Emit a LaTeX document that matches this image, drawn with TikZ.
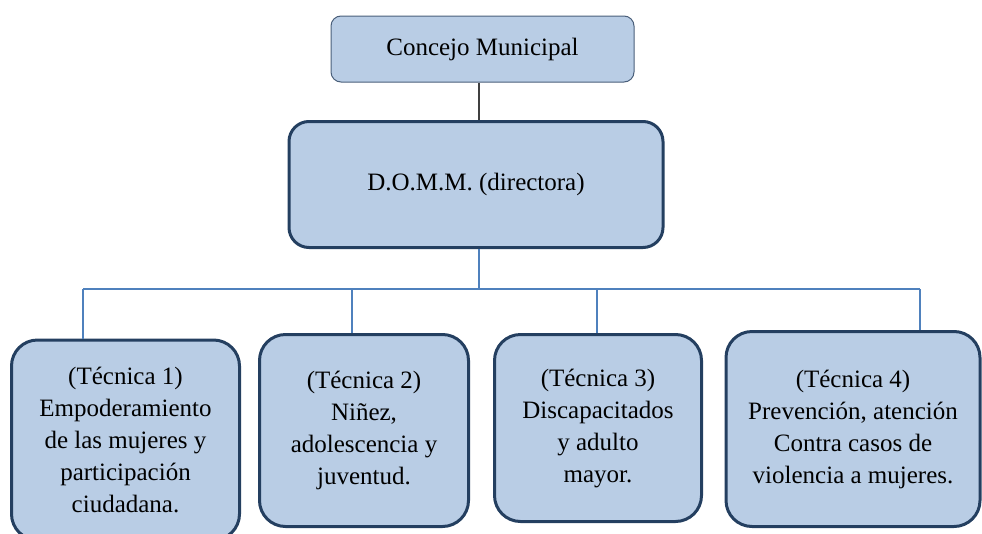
\documentclass[tikz,border=0pt]{standalone}
\usepackage{fontspec}
\setmainfont{Liberation Serif}
\definecolor{boxfill}{HTML}{B9CDE5}
\definecolor{boxline}{HTML}{243F60}
\definecolor{thinline}{HTML}{4A5F7A}
\definecolor{conn}{HTML}{4F81BD}
\begin{document}
\begin{tikzpicture}[x=1pt,y=-1pt,
  txt/.style={font=\fontsize{25}{32}\selectfont, align=center, inner sep=0pt},
  tbox/.style={txt, rectangle, rounded corners=26pt, fill=boxfill, draw=boxline, line width=3pt},
  topbox/.style={txt, rectangle, rounded corners=10pt, fill=boxfill, draw=thinline, line width=1pt},
  bus/.style={draw=conn, line width=1.2pt}]
\useasboundingbox (0,0) rectangle (982,533);
\clip (0,0) rectangle (982,533);
% top boxes
\node[topbox, minimum width=303pt, minimum height=66pt] (cm) at (482.5,49) {Concejo Municipal};
\node[tbox, rounded corners=20pt, minimum width=374pt, minimum height=126pt] (domm) at (476,184.5) {D.O.M.M. (directora)};
% technica boxes
\node[tbox, minimum width=228pt, minimum height=200pt] (t1) at (125.5,440) {(Técnica 1)\\Empoderamiento\\de las mujeres y\\participación\\ciudadana.};
\node[tbox, minimum width=209pt, minimum height=192pt] (t2) at (364,430.5) {(Técnica 2)\\Niñez,\\adolescencia y\\juventud.};
\node[tbox, minimum width=207pt, minimum height=187pt] (t3) at (598,428) {(Técnica 3)\\Discapacitados\\y adulto\\mayor.};
\node[tbox, minimum width=254pt, minimum height=195pt] (t4) at (853,429) {(Técnica 4)\\Prevención, atención\\Contra casos de\\violencia a mujeres.};
% connectors
\coordinate (hub) at (479,289);
\coordinate (b1) at (83,289);
\coordinate (b2) at (352,289);
\coordinate (b3) at (597,289);
\coordinate (b4) at (920,289);
\draw[draw=black!75, line width=1.2pt] (cm.south -| hub) -- (hub |- domm.north);
\draw[bus] (hub |- domm.south) -- (hub);
\draw[bus] (b1) -- (b4);
\draw[bus] (b1) -- (b1 |- t1.north);
\draw[bus] (b2) -- (b2 |- t2.north);
\draw[bus] (b3) -- (b3 |- t3.north);
\draw[bus] (b4) -- (b4 |- t4.north);
\end{tikzpicture}
\end{document}
